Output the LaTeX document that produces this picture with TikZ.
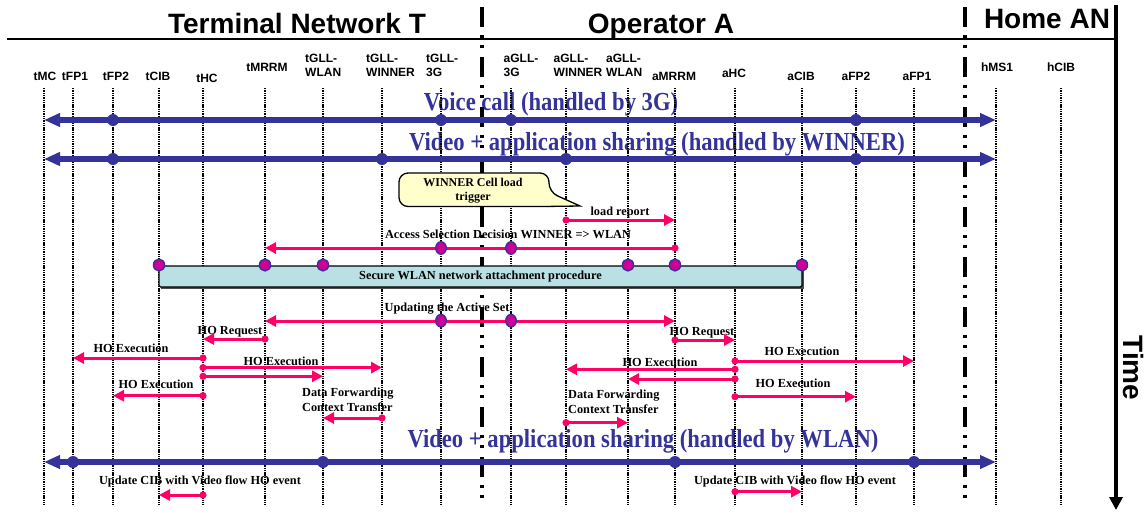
\documentclass[tikz,border=0pt]{standalone}
\usepackage{fontspec}
\setmainfont{Liberation Serif}
\newfontfamily\arialf{Liberation Sans}
\usetikzlibrary{arrows.meta}
\definecolor{flowblue}{RGB}{51,51,153}
\definecolor{msgpink}{RGB}{255,0,102}
\definecolor{dotmag}{RGB}{204,0,153}
\definecolor{boxcyan}{RGB}{185,224,228}
\definecolor{callyellow}{RGB}{255,255,204}
\newcommand{\pmsg}[3]{%
  \draw[msg] (#1 |- 0,#3) -- (#2 |- 0,#3);
  \fill[msgpink] (#1 |- 0,#3) circle[radius=3.6pt];
}
\begin{document}
\begin{tikzpicture}[x=1pt,y=-1pt,
  lifeline/.style={line width=1.6pt, dash pattern=on 1.4pt off 0.9pt},
  divider/.style={line width=4.5pt, dash pattern=on 20pt off 7.5pt on 3pt off 7pt on 3pt off 9.5pt},
  header/.style={font=\arialf\bfseries\fontsize{28}{32}\selectfont, inner sep=0pt, anchor=base},
  llabel/.style={font=\arialf\bfseries\fontsize{12}{14}\selectfont, inner sep=0pt, anchor=base},
  llabeltwo/.style={llabel, align=left, anchor=north west},
  flow/.style={draw=flowblue, line width=6pt, {Triangle[length=16pt,width=13pt]}-{Triangle[length=16pt,width=13pt]}},
  flowtext/.style={text=flowblue, font=\bfseries\fontsize{26}{30}\selectfont, inner sep=0pt, anchor=base},
  msg/.style={draw=msgpink, line width=3pt, -{Triangle[length=11pt,width=11pt]}},
  msgboth/.style={draw=msgpink, line width=3pt, {Triangle[length=11pt,width=11pt]}-{Triangle[length=11pt,width=11pt]}},
  msgtext/.style={font=\bfseries\fontsize{12.3}{15}\selectfont, inner sep=0pt, anchor=base},
  bigdot/.style={fill=dotmag, draw=flowblue, line width=1.3pt},
  wlanbox/.style={draw=black, fill=boxcyan, line width=1.2pt, rounded corners=1.5pt, minimum width=643pt, minimum height=21pt, inner sep=0pt, font=\bfseries\fontsize{12.3}{15}\selectfont},
]
\useasboundingbox (0,0) rectangle (1146,512);

% lifeline coordinates
\foreach \n/\x in {tMC/44,tFP1/73,tFP2/113,tCIB/159,tHC/203,tMRRM/265,tGLLWLAN/323,tGLLWINNER/382,tGLL3G/441,aGLL3G/511,aGLLWINNER/566,aGLLWLAN/628,aMRRM/675,aHC/735,aCIB/802,aFP2/856,aFP1/914,hMS1/996,hCIB/1061}
{ \coordinate (\n) at (\x,88); \coordinate (\n-b) at (\x,505); }

% headers
\node[header] (hdrT) at (297,33) {Terminal Network T};
\node[header] (hdrA) at (661,33) {Operator A};
\node[header] (hdrH) at (1047,28) {Home AN};
\coordinate (hl-w) at (7,39);
\coordinate (hl-e) at (1116,39);
\draw[line width=1.3pt] (hl-w) -- (hl-e);

% lifeline labels
\node[llabel] (l-tMC) at (45,80) {tMC};
\node[llabel] (l-tFP1) at (75,80) {tFP1};
\node[llabel] (l-tFP2) at (116,80) {tFP2};
\node[llabel] (l-tCIB) at (158,80) {tCIB};
\node[llabel] (l-tHC) at (207,82) {tHC};
\node[llabel] (l-tMRRM) at (267,71) {tMRRM};
\node[llabeltwo] (l-tGLLWLAN) at (305,54.4) {tGLL-\\WLAN};
\node[llabeltwo] (l-tGLLWINNER) at (366,54.4) {tGLL-\\WINNER};
\node[llabeltwo] (l-tGLL3G) at (426,54.4) {tGLL-\\3G};
\node[llabeltwo] (l-aGLL3G) at (503.5,54.4) {aGLL-\\3G};
\node[llabeltwo] (l-aGLLWINNER) at (553.5,54.4) {aGLL-\\WINNER};
\node[llabeltwo] (l-aGLLWLAN) at (606,54.4) {aGLL-\\WLAN};
\node[llabel] (l-aMRRM) at (674,80) {aMRRM};
\node[llabel] (l-aHC) at (734,77) {aHC};
\node[llabel] (l-aCIB) at (801,80) {aCIB};
\node[llabel] (l-aFP2) at (856,80) {aFP2};
\node[llabel] (l-aFP1) at (917,80) {aFP1};
\node[llabel] (l-hMS1) at (997,71) {hMS1};
\node[llabel] (l-hCIB) at (1061,71) {hCIB};

% flow texts
\node[flowtext] (voicetxt) at (551,110.7) {\scalebox{0.87}[1]{Voice call (handled by 3G)}};
\node[flowtext] (vidwinner) at (657,150.7) {\scalebox{0.87}[1]{Video + application sharing (handled by WINNER)}};
\node[flowtext] (vidwlan) at (643,447) {\scalebox{0.87}[1]{Video + application sharing (handled by WLAN)}};

% message labels
\node[msgtext] (t-load) at (620,215) {load report};
\node[msgtext] (t-access) at (508,238) {Access Selection Decision WINNER => WLAN};
\node[msgtext] (t-update) at (447,311) {Updating the Active Set};
\node[msgtext] (t-horeqL) at (230,334) {HO Request};
\node[msgtext] (t-horeqR) at (702,335) {HO Request};
\node[msgtext] (t-hoexL1) at (131,352) {HO Execution};
\node[msgtext] (t-hoexL2) at (281,365) {HO Execution};
\node[msgtext] (t-hoexL4) at (156,388) {HO Execution};
\node[msgtext, align=left, anchor=north west] (t-dfL) at (302,388.2) {Data Forwarding\\Context Transfer};
\node[msgtext] (t-hoexR1) at (802,355) {HO Execution};
\node[msgtext] (t-hoexR2) at (660,366) {HO Execution};
\node[msgtext] (t-hoexR4) at (793,387) {HO Execution};
\node[msgtext, align=left, anchor=north west] (t-dfR) at (568,389.6) {Data Forwarding\\Context Transfer};
\node[msgtext] (t-cibL) at (200,484) {Update CIB with Video flow HO event};
\node[msgtext] (t-cibR) at (795,484) {Update CIB with Video flow HO event};

% lifelines
\foreach \n in {tMC,tFP1,tFP2,tCIB,tHC,tMRRM,tGLLWLAN,tGLLWINNER,tGLL3G,aGLL3G,aGLLWINNER,aGLLWLAN,aMRRM,aHC,aCIB,aFP2,aFP1,hMS1,hCIB}
  \draw[lifeline] (\n) -- (\n-b);

% dividers and time axis
\coordinate (div1-top) at (482,7);
\coordinate (div1-bot) at (482,505);
\coordinate (div2-top) at (965,7);
\coordinate (div2-bot) at (965,505);
\draw[divider] (div1-top) -- (div1-bot);
\draw[divider] (div2-top) -- (div2-bot);
\coordinate (time-top) at (1116,5);
\coordinate (time-bot) at (1116,510);
\draw[line width=4pt, -{Triangle[length=13pt,width=13pt]}] (time-top) -- (time-bot);
\node[font=\arialf\bfseries\fontsize{28}{32}\selectfont, rotate=-90, inner sep=0pt] (timelbl) at (1133,368) {Time};

% callout
\draw[fill=callyellow, line width=1.3pt, rounded corners=9pt]
  (399,173) -- (549,173) -- (549,192) [sharp corners] -- (580,206) -- (543,206.5) [rounded corners=9pt] -- (399,206.5) -- cycle;
\node[msgtext, font=\bfseries\fontsize{12}{14}\selectfont, align=center, anchor=center] (calltxt) at (473,191) {WINNER Cell load\\trigger};

% WLAN box
\fill[black!70] (161,268) rectangle (804,288.5);
\node[wlanbox] (wlan) at (480.5,276.5) {Secure WLAN network attachment procedure};

% blue flows
\draw[flow] (tMC |- 0,120) -- (hMS1 |- 0,120);
\foreach \n in {tFP2,tGLL3G,aGLL3G,aFP2} \fill[flowblue] (\n |- 0,120) circle[radius=6pt];
\draw[flow] (tMC |- 0,159) -- (hMS1 |- 0,159);
\foreach \n in {tFP2,tGLLWINNER,aGLLWINNER,aFP2} \fill[flowblue] (\n |- 0,159) circle[radius=6pt];
\draw[flow] (tMC |- 0,462) -- (hMS1 |- 0,462);
\foreach \n in {tFP1,tGLLWLAN,aMRRM,aFP1} \fill[flowblue] (\n |- 0,462) circle[radius=6pt];

% pink messages
\pmsg{aGLLWINNER}{aMRRM}{220}
\pmsg{aMRRM}{tMRRM}{248}
\draw[msgboth] (tMRRM |- 0,321) -- (aMRRM |- 0,321);
\pmsg{tMRRM}{tHC}{339}
\pmsg{aMRRM}{aHC}{340}
\pmsg{tHC}{tFP1}{358}
\pmsg{tHC}{tGLLWINNER}{367.6}
\pmsg{tHC}{tGLLWLAN}{376.3}
\pmsg{tHC}{tFP2}{395.7}
\pmsg{tGLLWINNER}{tGLLWLAN}{418}
\pmsg{aHC}{aFP1}{361}
\pmsg{aHC}{aGLLWINNER}{369.3}
\pmsg{aHC}{aGLLWLAN}{379}
\pmsg{aHC}{aFP2}{396.7}
\pmsg{aGLLWINNER}{aGLLWLAN}{422.7}
\pmsg{tHC}{tCIB}{495}
\pmsg{aHC}{aCIB}{491.7}

% big magenta dots
\foreach \n in {tGLL3G,aGLL3G} {
  \filldraw[bigdot] (\n |- 0,248) ellipse[x radius=5.3pt, y radius=6.3pt];
  \filldraw[bigdot] (\n |- 0,320.7) ellipse[x radius=5.3pt, y radius=6.3pt];
}
\foreach \n in {tCIB,tMRRM,tGLLWLAN,aGLLWLAN,aMRRM,aCIB}
  \filldraw[bigdot] (\n |- 0,265) ellipse[x radius=5.6pt, y radius=6pt];
\end{tikzpicture}
\end{document}
